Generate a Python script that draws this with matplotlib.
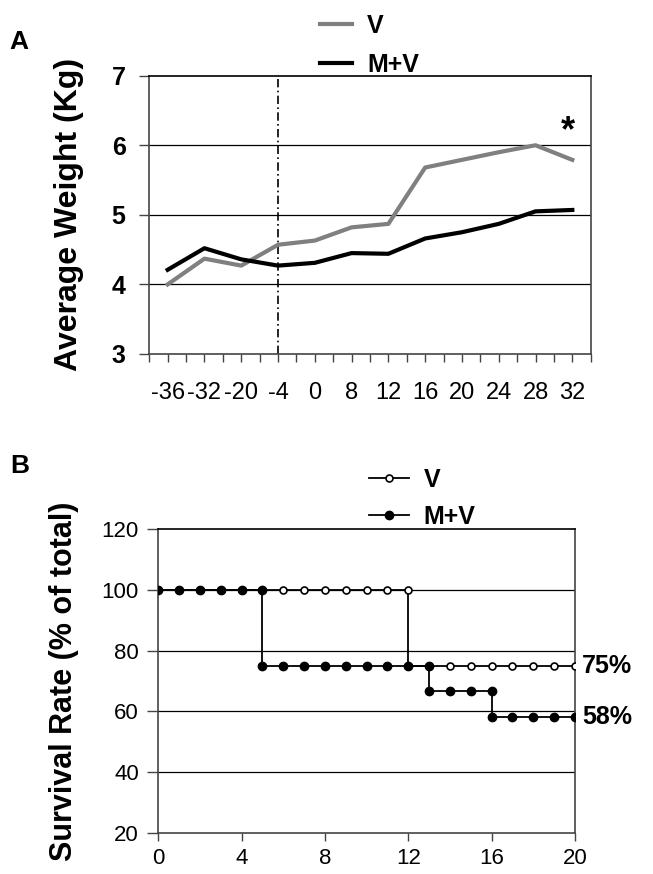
import numpy as np
import matplotlib
matplotlib.use("Agg")
import matplotlib.pyplot as plt

# panel A: average weight per week
weeks = ['-36', '-32', '-20', '-4', '0', '8', '12', '16', '20', '24', '28', '32']
weight_v = [4.00, 4.37, 4.27, 4.57, 4.63, 4.82, 4.87, 5.68, 5.79, 5.90, 6.00, 5.79]
weight_mv = [4.21, 4.52, 4.36, 4.27, 4.31, 4.45, 4.44, 4.66, 4.75, 4.87, 5.05, 5.07]

# panel B: survival, Kaplan-Meier style steps (repeated x = drop)
surv_v_x = [0, 1, 2, 3, 4, 5, 6, 7, 8, 9, 10, 11, 12, 12, 13, 14, 15, 16, 17, 18, 19, 20]
surv_v_y = [100] * 13 + [75] * 9
surv_mv_x = [0, 1, 2, 3, 4, 5, 5, 6, 7, 8, 9, 10, 11, 12, 13, 13, 14, 15, 16, 16, 17, 18, 19, 20]
surv_mv_y = [100] * 6 + [75] * 9 + [66.7] * 4 + [58.3] * 5

narrow = ['Liberation Sans Narrow', 'Liberation Sans', 'DejaVu Sans']
bold = ['Liberation Sans', 'DejaVu Sans']
plt.rcParams['font.family'] = narrow
spine_c = '#444444'

fig = plt.figure(figsize=(6.53, 8.74), dpi=100)

# ---------------- A
axA = fig.add_axes([0.2286, 0.5950, 0.676, 0.3184])
xa = np.arange(len(weeks))
lv, = axA.plot(xa, weight_v, color='#808080', lw=3, zorder=3)
lmv, = axA.plot(xa, weight_mv, color='black', lw=3, zorder=3)
axA.axvline(3, color='black', lw=1.2, ls=(0, (5, 2, 1, 2)), zorder=2)
for y in [4, 5, 6]:
    axA.axhline(y, color='black', lw=0.9, zorder=1)
axA.set_xlim(-0.5, 11.5)
axA.set_ylim(3, 7)
axA.set_xticks(xa)
axA.set_xticklabels(weeks, fontsize=17)
axA.set_xticks(np.arange(-0.5, 12, 1), minor=True)
axA.tick_params(axis='x', which='both', length=6, width=1, color=spine_c, pad=14)
axA.set_yticks([3, 4, 5, 6, 7])
axA.set_yticklabels(['3', '4', '5', '6', '7'], fontsize=18, fontweight='bold')
axA.tick_params(axis='y', length=7, width=1, color=spine_c, pad=10)
for s in axA.spines.values():
    s.set_color(spine_c)
    s.set_linewidth(1.2)
axA.spines['top'].set_color('black')
axA.set_ylabel('Average Weight (Kg)', fontsize=23, fontweight='bold', family=bold, labelpad=20)
axA.text(10.88, 6.2, '*', fontsize=26, fontweight='bold', family=bold, ha='center', va='center')
fig.legend([lv, lmv], ['V', 'M+V'], loc='upper left', bbox_to_anchor=(0.455, 1.01),
           frameon=False, handlelength=1.3, handletextpad=0.6, labelspacing=0.6,
           prop={'family': narrow, 'weight': 'bold', 'size': 18})
fig.text(0.015, 0.952, 'A', fontsize=19, fontweight='bold', family=bold, ha='left', va='center')

# ---------------- B
axB = fig.add_axes([0.2424, 0.0471, 0.638, 0.3473])
pv, = axB.plot(surv_v_x, surv_v_y, color='black', lw=1.3, marker='o', ms=5,
               mfc='white', mec='black', mew=1.2, zorder=3)
pmv, = axB.plot(surv_mv_x, surv_mv_y, color='black', lw=1.3, marker='o', ms=6,
                mfc='black', mec='black', zorder=4)
for y in [40, 60, 80, 100]:
    axB.axhline(y, color='black', lw=0.9, zorder=1)
axB.set_xlim(0, 20)
axB.set_ylim(20, 120)
axB.set_xticks([0, 4, 8, 12, 16, 20])
axB.set_yticks([20, 40, 60, 80, 100, 120])
axB.tick_params(axis='x', labelsize=16, length=6, width=1, color=spine_c, pad=5)
axB.tick_params(axis='y', labelsize=16, length=8, width=1, color=spine_c, pad=6)
for s in axB.spines.values():
    s.set_color(spine_c)
    s.set_linewidth(1.2)
axB.spines['top'].set_color('black')
axB.set_ylabel('Survival Rate (% of total)', fontsize=22, fontweight='bold', family=bold, labelpad=16)
axB.annotate('75%', (20, 75), xytext=(5, 0), textcoords='offset points', fontsize=18,
             fontweight='bold', family=bold, va='center', ha='left', annotation_clip=False)
axB.annotate('58%', (20, 58.3), xytext=(5, 0), textcoords='offset points', fontsize=18,
             fontweight='bold', family=bold, va='center', ha='left', annotation_clip=False)
fig.legend([pv, pmv], ['V', 'M+V'], loc='upper left', bbox_to_anchor=(0.53, 0.49),
           frameon=False, handlelength=1.6, handletextpad=0.6, labelspacing=0.5,
           prop={'family': narrow, 'weight': 'bold', 'size': 18})
fig.text(0.015, 0.467, 'B', fontsize=19, fontweight='bold', family=bold, ha='left', va='center')

fig.savefig('out.png', dpi=100)
